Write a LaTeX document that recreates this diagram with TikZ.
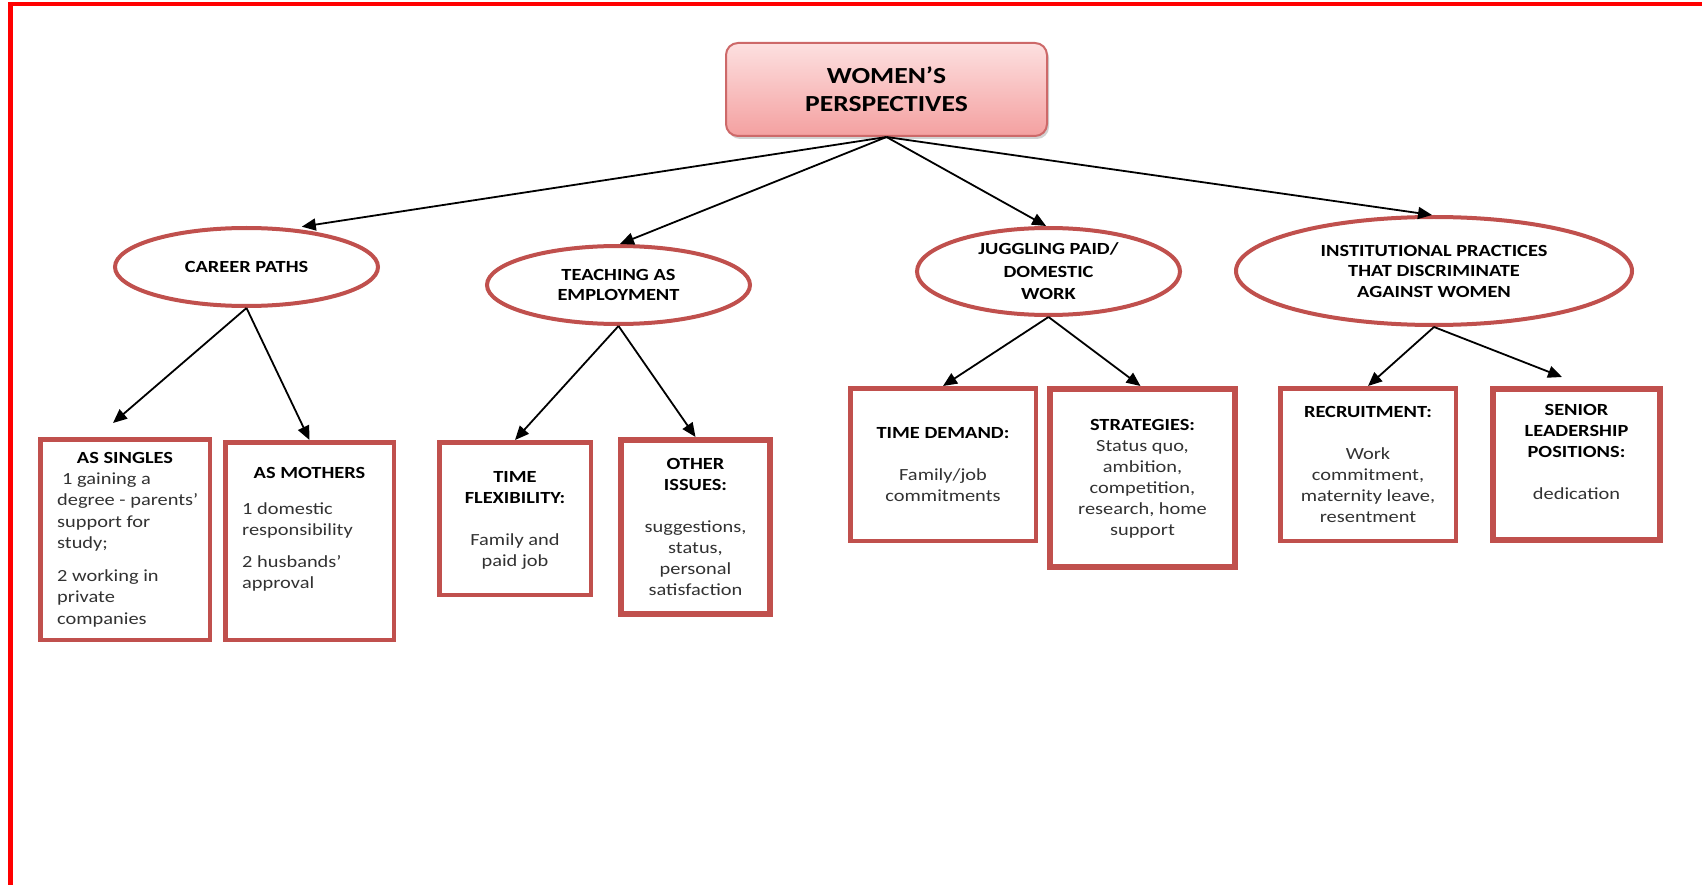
\documentclass[tikz,border=0pt]{standalone}
\usepackage{fontspec}
\setmainfont{Carlito}[FakeStretch=1.2]
\usetikzlibrary{shapes.geometric,arrows.meta,shadows}
\definecolor{bord}{RGB}{192,80,77}
\definecolor{framered}{RGB}{255,0,0}
\definecolor{bodyc}{RGB}{50,50,50}
\definecolor{roottop}{RGB}{253,224,224}
\definecolor{rootbot}{RGB}{244,160,160}
\definecolor{rootbord}{RGB}{205,105,105}
\newcommand{\mytitle}[1]{\textcolor{black}{\bfseries #1}}
\begin{document}
\begin{tikzpicture}[x=1pt,y=-1pt,
  ell/.style={ellipse, draw=bord, line width=4pt, inner sep=0pt, align=center,
    font=\fontsize{17}{21}\selectfont\bfseries, text=black},
  boxs/.style={rectangle, draw=bord, line width=4.5pt, inner sep=0pt},
  boxt/.style={rectangle, draw=bord, line width=6pt, inner sep=0pt},
  txt/.style={align=center, inner sep=0pt, font=\fontsize{17}{21}\selectfont, text=bodyc},
  txtl/.style={align=left, inner sep=0pt, font=\fontsize{17}{21}\selectfont, text=bodyc},
  arr/.style={-{Triangle[length=14pt,width=12pt]}, line width=1.8pt, black}]
\useasboundingbox (0,0) rectangle (1702,885);
\fill[white] (0,0) rectangle (1702,885);
\draw[framered, line width=4.5pt] (10.5,885) -- (10.5,4) -- (1702,4);

% root
\node[rectangle, rounded corners=12pt, draw=rootbord, line width=2pt,
  top color=roottop, bottom color=rootbot,
  drop shadow={shadow xshift=2pt, shadow yshift=-3pt, fill=black!35},
  minimum width=321pt, minimum height=93pt, align=center,
  font=\fontsize{23}{28}\selectfont\bfseries] (root) at (886.5,89.5)
  {WOMEN’S\\PERSPECTIVES};

% ellipses
\node[ell, minimum width=263pt, minimum height=78pt] (cp) at (246.5,267) {CAREER PATHS};
\node[ell, minimum width=263pt, minimum height=78pt, font=\fontsize{17}{20}\selectfont\bfseries] (tea) at (618.5,285) {TEACHING AS\\EMPLOYMENT};
\node[ell, minimum width=263pt, minimum height=87pt, font=\fontsize{17}{22.5}\selectfont\bfseries] (jug) at (1048.5,271.5) {JUGGLING PAID/\\DOMESTIC\\WORK};
\node[ell, minimum width=396pt, minimum height=108pt, font=\fontsize{17}{20.5}\selectfont\bfseries] (ins) at (1434,271) {INSTITUTIONAL PRACTICES\\THAT DISCRIMINATE\\AGAINST WOMEN};

% boxes
\node[boxs, minimum width=169.5pt, minimum height=200.5pt] (s1) at (125,539.5) {};
\node[boxs, minimum width=168.5pt, minimum height=197.5pt] (s2) at (309.5,541) {};
\node[boxs, minimum width=151.5pt, minimum height=152.5pt] (t1) at (515,518.5) {};
\node[boxt, minimum width=149pt, minimum height=174pt] (t2) at (695.5,527) {};
\node[boxs, minimum width=185.5pt, minimum height=152.5pt] (j1) at (943,464.5) {};
\node[boxt, minimum width=185pt, minimum height=178pt] (j2) at (1142.5,478) {};
\node[boxs, minimum width=175.5pt, minimum height=152.5pt] (i1) at (1368,464.5) {};
\node[boxt, minimum width=167pt, minimum height=151pt] (i2) at (1576.5,464.5) {};

% box texts
\node[txt] (s1h) at (125,458) {\mytitle{AS SINGLES}};
\node[txtl, anchor=west, font=\fontsize{17}{21.5}\selectfont] (s1b) at (57,550) {\hspace{5pt}1 gaining a\\degree - parents’\\support for\\study;\\[11pt]2 working in\\private\\companies};
\node[txt] (s2h) at (309.5,473) {\mytitle{AS MOTHERS}};
\node[txtl, anchor=west] (s2b) at (242,546.5) {1 domestic\\responsibility\\[11pt]2 husbands’\\approval};
\node[txt] (t1x) at (515,520) {\mytitle{TIME}\\\mytitle{FLEXIBILITY:}\\[21pt]Family and\\paid job};
\node[txt] (t2x) at (695.5,526.5) {\mytitle{OTHER}\\\mytitle{ISSUES:}\\[21pt]suggestions,\\status,\\personal\\satisfaction};
\node[txt] (j1x) at (943,465) {\mytitle{TIME DEMAND:}\\[21pt]Family/job\\commitments};
\node[txt] (j2x) at (1142.5,479) {\mytitle{STRATEGIES:}\\Status quo,\\ambition,\\competition,\\research, home\\support};
\node[txt] (i1x) at (1368,464.5) {\mytitle{RECRUITMENT:}\\[21pt]Work\\commitment,\\maternity leave,\\resentment};
\node[txt] (i2x) at (1576.5,451.5) {\mytitle{SENIOR}\\\mytitle{LEADERSHIP}\\\mytitle{POSITIONS:}\\[21pt]dedication};

% connectors
\draw[arr] (root.south) -- ([yshift=3pt]cp.34);
\draw[arr] (root.south) -- (tea.88);
\draw[arr] (root.south) -- (jug.93);
\draw[arr] (root.south) -- (ins.92);
\draw[arr] (cp.south) -- ([xshift=-12pt,yshift=14pt]s1.north);
\draw[arr] (cp.south) -- (s2.north);
\draw[arr] (tea.south) -- (t1.north);
\draw[arr] (tea.south) -- (t2.north);
\draw[arr] (jug.south) -- (j1.north);
\draw[arr] (jug.south) -- ([xshift=-2pt]j2.north);
\draw[arr] (ins.south) -- (i1.north);
\draw[arr] (ins.south) -- ([xshift=-14.5pt,yshift=9pt]i2.north);
\end{tikzpicture}
\end{document}
